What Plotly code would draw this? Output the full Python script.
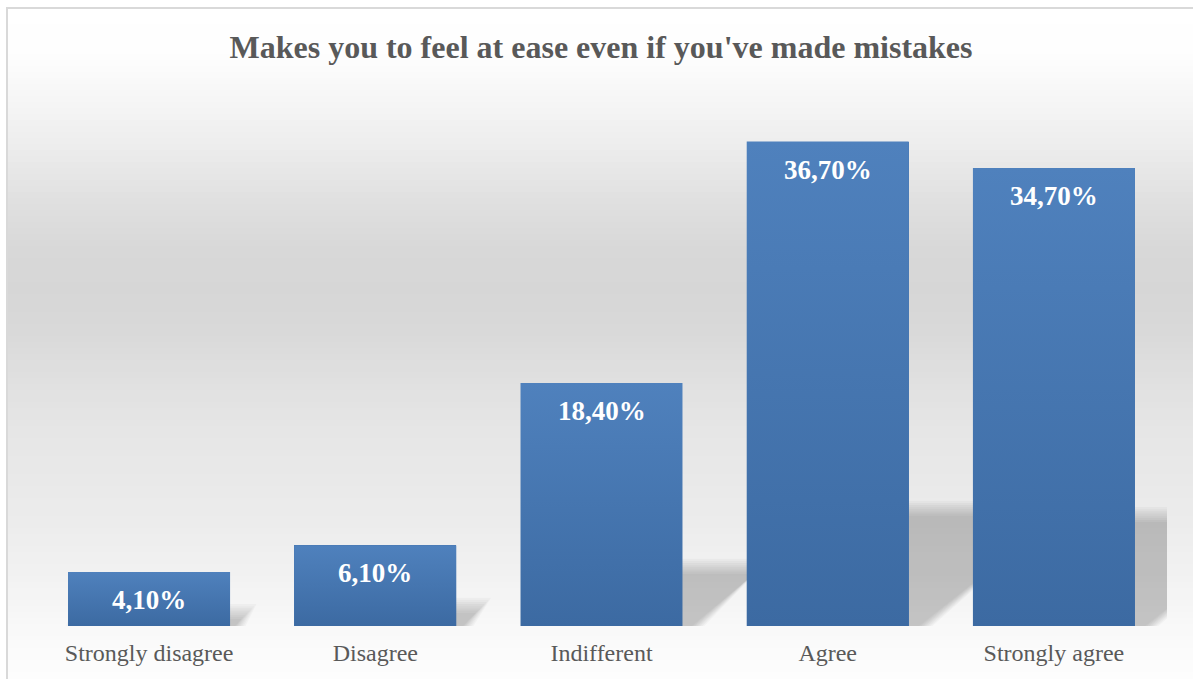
import numpy as np
import plotly.graph_objects as go

# ---- data -------------------------------------------------------------
categories = ["Strongly disagree", "Disagree", "Indifferent", "Agree", "Strongly agree"]
shares = [4.1, 6.1, 18.4, 36.7, 34.7]          # percent of respondents
title_text = "Makes you to feel at ease even if you've made mistakes"

# ---- geometry / style -------------------------------------------------
W, H = 1193, 679
PL, PR, PT, PB = 36, 1167, 98, 626          # plot area in pixels
YMAX = 40
BAR_W = 0.716
X_PX = (PR - PL) / len(categories)          # px per category
Y_PX = (PB - PT) / YMAX                     # px per percent

SERIF = "Liberation Serif, Times New Roman, serif"
TEXT_GREY = "#595959"
BAR_TOP = "#4f81bd"
BAR_BOTTOM = "#3c6aa2"


def px_to_paper_x(px):
    return (px - PL) / (PR - PL)


def px_to_paper_y(py):
    return (PB - py) / (PB - PT)


def fmt(v):
    return f"{v:.2f}".replace(".", ",") + "%"


xs = list(range(len(categories)))
shapes = []

# chart-area background: vertical grey gradient as thin strips
grad_y = [0, 50, 100, 150, 200, 250, 290, 330, 380, 430, 480, 520, 580, 630, 679]
grad_g = [255, 254, 246, 236, 224, 216, 214, 217, 224, 230, 233, 236, 242, 249, 253]
edges = np.arange(0, H + 6, 6)
for y0, y1 in zip(edges[:-1], edges[1:]):
    g = int(round(np.interp((y0 + y1) / 2, grad_y, grad_g)))
    shapes.append(dict(
        type="rect", xref="paper", yref="paper", layer="below",
        x0=px_to_paper_x(-10), x1=px_to_paper_x(W + 10),
        y0=px_to_paper_y(y1 + 0.5), y1=px_to_paper_y(y0),
        line=dict(width=0), fillcolor=f"rgb({g},{g},{g})",
    ))

# white margin outside the frame on the left/top
shapes.append(dict(type="rect", xref="paper", yref="paper", layer="below",
                   x0=px_to_paper_x(-10), x1=px_to_paper_x(6),
                   y0=px_to_paper_y(H + 10), y1=px_to_paper_y(-10),
                   line=dict(width=0), fillcolor="white"))
shapes.append(dict(type="rect", xref="paper", yref="paper", layer="below",
                   x0=px_to_paper_x(-10), x1=px_to_paper_x(W + 10),
                   y0=px_to_paper_y(7), y1=px_to_paper_y(-10),
                   line=dict(width=0), fillcolor="white"))
# frame line
shapes.append(dict(type="rect", xref="paper", yref="paper", layer="below",
                   x0=px_to_paper_x(7), x1=px_to_paper_x(W + 20),
                   y0=px_to_paper_y(H + 20), y1=px_to_paper_y(8),
                   line=dict(width=2, color="#d9d9d9"), fillcolor="rgba(0,0,0,0)"))

# soft perspective shadows cast by the bars (stacked translucent layers)
SH_RATIO = 0.24      # shadow height relative to bar height
SH_SLANT = 1.34      # px to the right per px of shadow height
for x, v in zip(xs, shares):
    hs_px = SH_RATIO * v * Y_PX
    dx = SH_SLANT * hs_px / X_PX
    for e in np.linspace(9, -6, 8):
        ex = e / X_PX
        ey = e / Y_PX
        xl, xr = x - BAR_W / 2, x + BAR_W / 2
        top = SH_RATIO * v + ey
        path = (f"M {xl - ex},{-1} L {xr + ex},{-1} "
                f"L {xr + dx + ex},{top} L {xl + dx - ex},{top} Z")
        shapes.append(dict(type="path", xref="x", yref="y", layer="below",
                           path=path, line=dict(width=0),
                           fillcolor="rgba(0,0,0,0.029)"))

fig = go.Figure()

fig.add_trace(go.Bar(
    x=xs, y=shares, width=BAR_W,
    marker=dict(color="#4676b0", line=dict(width=0)),
    hovertext=categories, hoverinfo="text+y", showlegend=False,
))

# vertical colour gradient on each bar
for x, v in zip(xs, shares):
    xl, xr = x - BAR_W / 2, x + BAR_W / 2
    fig.add_trace(go.Scatter(
        x=[xl, xr, xr, xl, xl], y=[0, 0, v, v, 0],
        mode="lines", fill="toself", line=dict(width=0),
        fillgradient=dict(type="vertical",
                          colorscale=[[0, BAR_BOTTOM], [1, BAR_TOP]]),
        hoverinfo="skip", showlegend=False,
    ))

annotations = [
    dict(x=x, y=v, xref="x", yref="y", text=fmt(v), showarrow=False,
         yanchor="middle", yshift=-28,
         font=dict(family=SERIF, size=27, color="white", weight="bold"))
    for x, v in zip(xs, shares)
]

fig.update_layout(
    width=W, height=H,
    margin=dict(l=PL, r=W - PR, t=PT, b=H - PB, pad=0),
    paper_bgcolor="white", plot_bgcolor="rgba(0,0,0,0)",
    title=dict(text=title_text, x=601 / W, xanchor="center",
               y=1 - 47 / H, yanchor="middle", yref="container",
               font=dict(family=SERIF, size=32, color=TEXT_GREY, weight="bold")),
    xaxis=dict(tickmode="array", tickvals=xs, ticktext=categories,
               range=[-0.5, len(categories) - 0.5],
               showgrid=False, zeroline=False, showline=False, ticks="",
               tickfont=dict(family=SERIF, size=24, color=TEXT_GREY),
               ticklabelstandoff=10),
    yaxis=dict(range=[0, YMAX], visible=False, showgrid=False, zeroline=False),
    shapes=shapes, annotations=annotations,
    bargap=0, showlegend=False,
)

fig.write_html("out.html")
